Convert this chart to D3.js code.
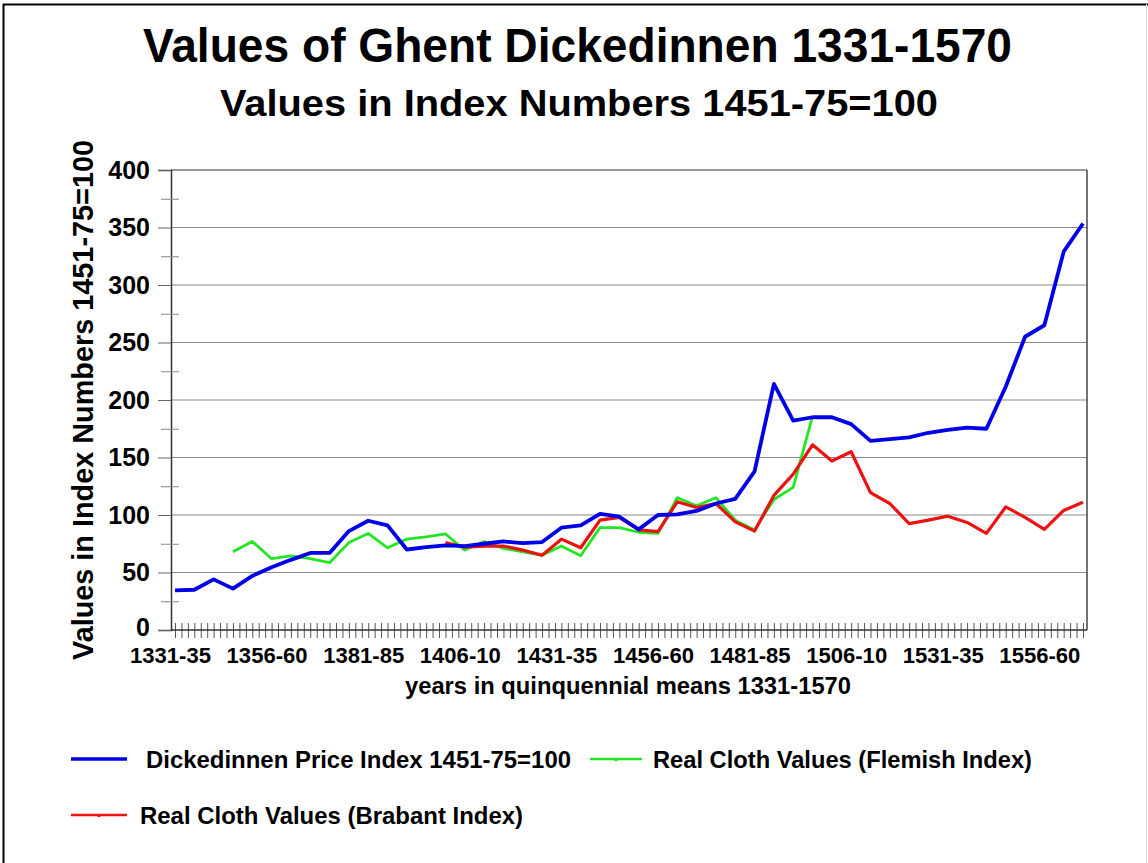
<!DOCTYPE html>
<html><head><meta charset="utf-8">
<script src="https://cdn.jsdelivr.net/npm/d3@7"></script>
<style>
body{margin:0;background:#fff}
text{font-family:"Liberation Sans",Arial,sans-serif;font-weight:bold;fill:#000}
</style>
</head><body>
<svg id="c" width="1148" height="863"></svg>
<script>
const categories = ["1331-35","1336-40","1341-45","1346-50","1351-55","1356-60","1361-65","1366-70","1371-75","1376-80",
"1381-85","1386-90","1391-95","1396-1400","1401-05","1406-10","1411-15","1416-20","1421-25","1426-30",
"1431-35","1436-40","1441-45","1446-50","1451-55","1456-60","1461-65","1466-70","1471-75","1476-80",
"1481-85","1486-90","1491-95","1496-1500","1501-05","1506-10","1511-15","1516-20","1521-25","1526-30",
"1531-35","1536-40","1541-45","1546-50","1551-55","1556-60","1561-65","1566-70"];
const xTickLabels = ["1331-35","1356-60","1381-85","1406-10","1431-35","1456-60","1481-85","1506-10","1531-35","1556-60"];
const yTicks = [0,50,100,150,200,250,300,350,400];
const priceIndex = [34.5,35,44,36,47,54.5,61,67,67,86,95,91,70,72,73.5,73,75,77,75.5,76.5,
89,91,101,98.5,87.5,100,100.5,103.5,110,114,138,214,182,185,185,179,164.5,166,167.5,171.5,
174,176,175,211.5,255,265,329,353.5];
const flemish = [null,null,null,68,77,62,64.5,62,58.5,76,84,71.5,79,81,83.5,69.5,77,71,68,65,
73,64.5,89,89,85,84,115,108,115,95.5,87,113.5,124,186,null,null,null,null,null,null,
null,null,null,null,null,null,null,null];
const brabant = [null,null,null,null,null,null,null,null,null,null,null,null,null,null,76,72,73,73,69.5,65,
79,71.5,95.5,98,87,85.5,111.5,106.5,110,94,86,117,135.5,161,147,155,119.5,110,92.5,95.5,
99,93.5,84,107,98,87.5,104,111];
const seriesNames = ["Dickedinnen Price Index 1451-75=100","Real Cloth Values (Flemish Index)","Real Cloth Values (Brabant Index)"];
const seriesColors = ["#0000e8","#22e622","#ee1111"];

const svg = d3.select("#c");
const L = 171, R = 1087, T = 170, B = 630;
const x = d3.scalePoint().domain(categories).range([175, 1083]);
const xi = d3.scaleLinear().domain([0, categories.length - 1]).range([175, 1083]);
const y = d3.scaleLinear().domain([0, 400]).range([B, T]);

// outer frame
svg.append("line").attr("x1",3).attr("x2",1148).attr("y1",4.5).attr("y2",4.5).attr("stroke","#000").attr("stroke-width",2);
svg.append("line").attr("x1",3.5).attr("x2",3.5).attr("y1",4).attr("y2",863).attr("stroke","#000").attr("stroke-width",2);
svg.append("line").attr("x1",1146.5).attr("x2",1146.5).attr("y1",4).attr("y2",863).attr("stroke","#ddd").attr("stroke-width",1);

// titles
svg.append("text").attr("x",577.5).attr("y",62).attr("text-anchor","middle").attr("font-size",48)
  .attr("textLength",869).attr("lengthAdjust","spacingAndGlyphs").text("Values of Ghent Dickedinnen 1331-1570");
svg.append("text").attr("x",579).attr("y",116).attr("text-anchor","middle").attr("font-size",37)
  .attr("textLength",718).attr("lengthAdjust","spacingAndGlyphs").text("Values in Index Numbers 1451-75=100");

// gridlines
svg.append("g").selectAll("line").data(yTicks.filter(v => v > 0)).join("line")
  .attr("x1",L).attr("x2",R).attr("y1",d=>y(d)).attr("y2",d=>y(d))
  .attr("stroke",d => d === 400 ? "#333" : "#8c8c8c").attr("stroke-width",1.2);
// right border
svg.append("line").attr("x1",R).attr("x2",R).attr("y1",T).attr("y2",B).attr("stroke","#444").attr("stroke-width",1.5);

// y axis major
const yAxis = svg.append("g").attr("transform",`translate(${L},0)`)
  .call(d3.axisLeft(y).tickValues(yTicks).tickSize(13).tickPadding(8));
yAxis.select(".domain").attr("stroke","#333").attr("stroke-width",1.5);
yAxis.selectAll(".tick line").attr("stroke","#666");
yAxis.selectAll("text").attr("font-size",25).attr("font-family","Liberation Sans, Arial, sans-serif").attr("font-weight","bold").attr("fill","#000");
yAxis.selectAll(".tick").filter(d => d === 0).select("text").attr("dy","0.2em");
// y axis minor (crossing)
const yMinor = svg.append("g").attr("transform",`translate(${L+8},0)`)
  .call(d3.axisLeft(y).tickValues(d3.range(25,400,50)).tickSize(18).tickFormat(""));
yMinor.select(".domain").remove();
yMinor.selectAll(".tick line").attr("stroke","#888");

// x axis line + minor ticks
const xMinor = svg.append("g").attr("transform",`translate(0,${B-7})`)
  .call(d3.axisBottom(xi).tickValues(d3.range(0, categories.length - 1 + 0.01, 1/3)).tickSize(15).tickFormat(""));
xMinor.select(".domain").remove();
xMinor.selectAll(".tick line").attr("stroke","#555");
const xAxis = svg.append("g").attr("transform",`translate(0,${B})`)
  .call(d3.axisBottom(x).tickValues(xTickLabels).tickSize(0));
xAxis.select(".domain").attr("d",`M${L},0H${R}`).attr("stroke","#333").attr("stroke-width",1.5);
xAxis.selectAll("text").attr("y",33).attr("dy",null).attr("dx",-5).attr("font-size",22)
  .attr("textLength",81).attr("lengthAdjust","spacingAndGlyphs")
  .attr("font-family","Liberation Sans, Arial, sans-serif").attr("font-weight","bold").attr("fill","#000");

// axis titles
svg.append("text").attr("x",628).attr("y",694).attr("text-anchor","middle").attr("font-size",23)
  .attr("textLength",446).attr("lengthAdjust","spacingAndGlyphs").text("years in quinquennial means 1331-1570");
svg.append("text").attr("transform","translate(93,400) rotate(-90)").attr("text-anchor","middle").attr("font-size",30)
  .attr("textLength",520).attr("lengthAdjust","spacingAndGlyphs").text("Values in Index Numbers 1451-75=100");

// lines
const line = d3.line().defined(d => d != null).x((d,i) => x(categories[i])).y(d => y(d));
const allSeries = [priceIndex, flemish, brabant];
const widths = [3.8, 2.8, 3.2];
[1,2,0].forEach(k => {
  svg.append("path").datum(allSeries[k]).attr("fill","none").attr("stroke",seriesColors[k])
    .attr("stroke-width",widths[k]).attr("stroke-linejoin","round").attr("d",line);
});

// legend
const leg = [
  {x1:71,x2:127,y:759,tx:146,tl:425},
  {x1:590,x2:642,y:759,tx:653,tl:379},
  {x1:71,x2:127,y:815,tx:140,tl:383}
];
leg.forEach((p,k) => {
  svg.append("line").attr("x1",p.x1).attr("x2",p.x2).attr("y1",p.y).attr("y2",p.y)
    .attr("stroke",seriesColors[k]).attr("stroke-width",k===0?3.5:2.6);
  if (k > 0) svg.append("rect").attr("x",(p.x1+p.x2)/2-1.5).attr("y",p.y-1).attr("width",3).attr("height",3).attr("fill",seriesColors[k]);
  svg.append("text").attr("x",p.tx).attr("y",p.y+8.5).attr("font-size",24)
    .attr("textLength",p.tl).attr("lengthAdjust","spacingAndGlyphs").text(seriesNames[k]);
});
</script>
</body></html>
